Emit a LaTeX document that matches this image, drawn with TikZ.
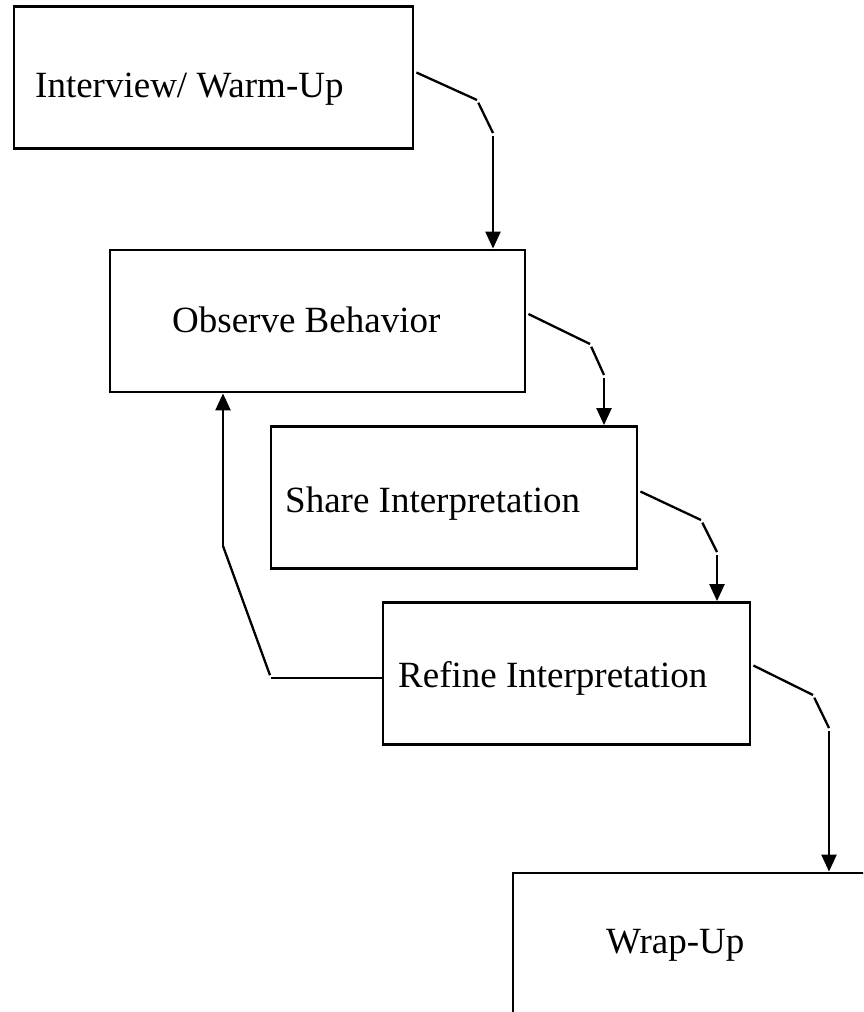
\documentclass[tikz,border=0pt]{standalone}
\usepackage{fontspec}
\setmainfont{Liberation Serif}
\usetikzlibrary{arrows.meta, calc}
\tikzstyle{stage} = [rectangle, draw, line width=2.8pt, minimum height=142pt]
\tikzstyle{stagetext} = [anchor=base west, inner sep=0pt, font=\fontsize{37}{41}\selectfont]
\tikzstyle{link} = [line width=2.3pt]
\tikzstyle{linkarrow} = [line width=2.3pt, -{Triangle[width=15pt,length=17pt]}]
\newcommand{\drawStepLink}[4]
{
    \draw [link] (#1) -- (#2);
    \draw [link, shorten <=3pt] (#2) -- (#3);
    \draw [linkarrow, shorten <=3pt] (#3) -- (#3 |- #4.north);
}

\begin{document}
\begin{tikzpicture}[x=1pt, y=-1pt]
\clip (0,0) rectangle (863,1012);

\node (iw) [stage, minimum width=399pt] at (213.5,77.5) {};
\node (ob) [stage, minimum width=415pt] at (317.5,321) {};
\node (sh) [stage, minimum width=366pt] at (454,497.5) {};
\node (rf) [stage, minimum width=367pt] at (566.5,673.5) {};
\node (wu) [stage, minimum width=367pt] at (696.5,944) {};

\node (iwtext) [stagetext] at (35,97) {Interview/ Warm-Up};
\node (obtext) [stagetext] at (172,332) {Observe Behavior};
\node (shtext) [stagetext] at (285,512) {Share Interpretation};
\node (rftext) [stagetext] at (398,687) {Refine Interpretation};
\node (wutext) [stagetext] at (606,953) {Wrap-Up};

\coordinate (s1) at ($(iw.east)+(2,-5)$);
\coordinate (p1) at (477,100);
\coordinate (q1) at (493,133);
\coordinate (s2) at ($(ob.east)+(2,-7)$);
\coordinate (p2) at (590,344);
\coordinate (q2) at (604,375);
\coordinate (s3) at ($(sh.east)+(2,-6)$);
\coordinate (p3) at (701,520);
\coordinate (q3) at (717,552);
\coordinate (s4) at ($(rf.east)+(2,-8)$);
\coordinate (p4) at (813,695);
\coordinate (q4) at (829,728);

\drawStepLink{s1}{p1}{q1}{ob}
\drawStepLink{s2}{p2}{q2}{sh}
\drawStepLink{s3}{p3}{q3}{rf}
\drawStepLink{s4}{p4}{q4}{wu}

% back to observe
\coordinate (h1) at (271,678);
\coordinate (v1) at (223,546);
\draw [link] ($(rf.west)+(0,4.5)$) -- (h1);
\draw [link, shorten <=3pt] (h1) -- (v1);
\draw [linkarrow] (v1) -- (v1 |- ob.south);

\end{tikzpicture}
\end{document}
